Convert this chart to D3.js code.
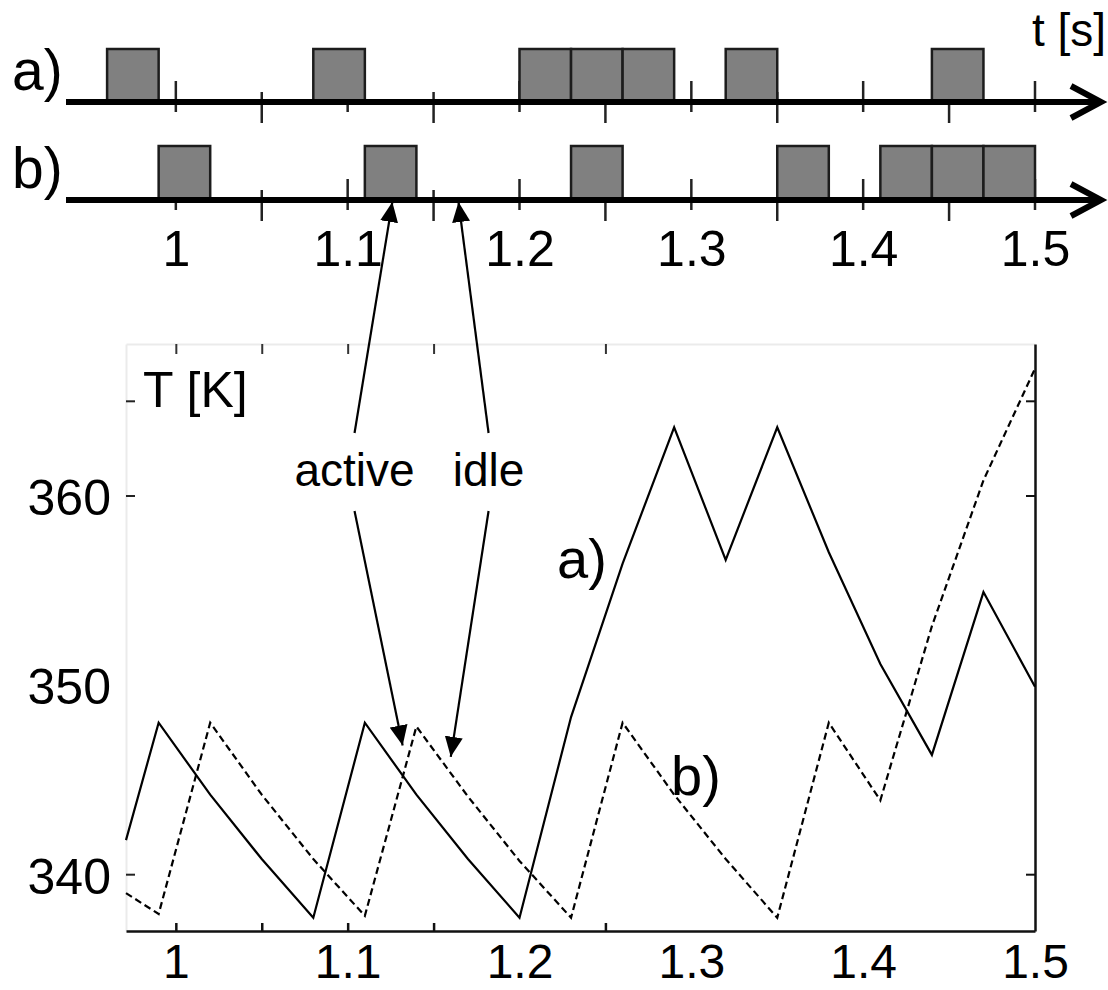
<!DOCTYPE html>
<html>
<head>
<meta charset="utf-8">
<script src="https://cdn.jsdelivr.net/npm/d3@7/dist/d3.min.js"></script>
<style>
  html, body { margin: 0; padding: 0; background: #fff; }
  svg { display: block; font-family: "Liberation Sans", Arial, Helvetica, sans-serif; }
</style>
</head>
<body>
<svg id="chart" width="1108" height="990"></svg>
<script>
// ---- data -------------------------------------------------------------
// start times [s] of the 30 ms active slots of each schedule
const slotLength = 0.03;
const activeA = [0.96, 1.08, 1.20, 1.23, 1.26, 1.32, 1.44];
const activeB = [0.99, 1.11, 1.23, 1.35, 1.41, 1.44, 1.47];

// temperature traces: time [s] and T [K]
const timeA = [0.971, 0.99, 1.02, 1.05, 1.08, 1.11, 1.14, 1.17, 1.20, 1.23, 1.26, 1.29, 1.32, 1.35, 1.38, 1.41, 1.44, 1.47, 1.50];
const tempA = [341.8, 348.0, 344.2, 340.8, 337.7, 348.0, 344.2, 340.8, 337.7, 348.3, 356.4, 363.6, 356.6, 363.6, 357.0, 351.1, 346.3, 354.9, 349.9];
const timeB = [0.971, 0.99, 1.02, 1.05, 1.08, 1.11, 1.14, 1.17, 1.20, 1.23, 1.26, 1.29, 1.32, 1.35, 1.38, 1.41, 1.44, 1.47, 1.50];
const tempB = [339.0, 337.9, 348.0, 344.2, 340.8, 337.8, 347.8, 344.1, 340.7, 337.7, 348.0, 344.2, 340.8, 337.7, 348.0, 343.9, 353.1, 360.8, 366.7];

// axis ticks and labels
const timeTicks = [1, 1.05, 1.1, 1.15, 1.2, 1.25, 1.3, 1.35, 1.4, 1.45, 1.5];
const timeLabels = [1, 1.1, 1.2, 1.3, 1.4, 1.5];
const plotTimeTicks = [1, 1.05, 1.1, 1.15, 1.25];
const tempTicks = [340, 360, 365];
const tempLabels = [340, 350, 360];

// annotation arrows: label anchor (t, T) and the target on the curve
const notes = [
  { text: "active", t: 1.104, T: 360.5, slotT: 1.126, curveT: 1.132, curveK: 346.8 },
  { text: "idle",   t: 1.182, T: 360.5, slotT: 1.1645, curveT: 1.160, curveK: 346.2 }
];

// ---- scales -----------------------------------------------------------
const x = d3.scaleLinear().domain([0.971, 1.5]).range([126, 1035]);
const y = d3.scaleLinear().domain([337, 368]).range([931, 344]);

const svg = d3.select("#chart");
const FONT = 50;

// ---- schedule timelines -----------------------------------------------
const rows = [
  { label: "a)", slots: activeA, axisY: 102, boxTop: 49 },
  { label: "b)", slots: activeB, axisY: 200, boxTop: 146 }
];

rows.forEach(r => {
  const g = svg.append("g");
  // tick marks: long part above the axis for whole tenths, below for halves
  g.selectAll("line.tk").data(timeTicks).join("line")
    .attr("x1", d => x(d)).attr("x2", d => x(d))
    .attr("y1", d => Math.round(d * 100) % 10 === 0 ? r.axisY - 21 : r.axisY - 10)
    .attr("y2", d => Math.round(d * 100) % 10 === 0 ? r.axisY + 10 : r.axisY + 21)
    .attr("stroke", "#222").attr("stroke-width", 2.5);
  // active slots
  g.selectAll("rect").data(r.slots).join("rect")
    .attr("x", d => x(d)).attr("width", d => x(d + slotLength) - x(d))
    .attr("y", r.boxTop).attr("height", r.axisY - r.boxTop)
    .attr("fill", "#808080").attr("stroke", "#1c1c1c").attr("stroke-width", 2.5);
  // time axis with arrow
  g.append("line").attr("x1", 66).attr("x2", 1099)
    .attr("y1", r.axisY).attr("y2", r.axisY)
    .attr("stroke", "#000").attr("stroke-width", 6);
  g.append("path")
    .attr("d", `M${1071},${r.axisY - 16} L${1101},${r.axisY} L${1071},${r.axisY + 16}`)
    .attr("fill", "none").attr("stroke", "#000").attr("stroke-width", 6)
    .attr("stroke-linejoin", "miter");
  g.append("text").attr("x", 12).attr("y", r.axisY - 12)
    .attr("font-size", 57).text(r.label);
});

svg.append("text").attr("x", 1106).attr("y", 46)
  .attr("text-anchor", "end").attr("font-size", 46).text("t [s]");

// time labels under the timelines
const topLabels = svg.append("g").attr("transform", `translate(0,${rows[1].axisY})`)
  .call(d3.axisBottom(x).tickValues(timeLabels).tickSize(0).tickPadding(30)
    .tickFormat(d3.format("")));
topLabels.select(".domain").remove();
topLabels.selectAll("text").attr("font-size", FONT).attr("fill", "#000")
  .attr("font-family", null);

// ---- temperature plot -------------------------------------------------
const frame = svg.append("g");

// faint top and left edges of the box
frame.append("g").attr("transform", `translate(0,${y(368)})`)
  .call(d3.axisTop(x).tickValues(plotTimeTicks).tickSizeInner(-10).tickSizeOuter(0).tickFormat(""))
  .call(g => g.select(".domain").attr("stroke", "#ebebeb").attr("stroke-width", 2))
  .call(g => g.selectAll(".tick line").attr("stroke", "#333").attr("stroke-width", 2));

frame.append("g").attr("transform", `translate(${x(0.971)},0)`)
  .call(d3.axisLeft(y).tickValues(tempTicks).tickSizeInner(-9).tickSizeOuter(0).tickFormat(""))
  .call(g => g.select(".domain").attr("stroke", "#ebebeb").attr("stroke-width", 2))
  .call(g => g.selectAll(".tick line").attr("stroke", "#222").attr("stroke-width", 2));

// temperature labels
const yLab = frame.append("g").attr("transform", `translate(${x(0.971)},0)`)
  .call(d3.axisLeft(y).tickValues(tempLabels).tickSize(0).tickPadding(15).tickFormat(d3.format("")));
yLab.select(".domain").remove();
yLab.selectAll("text").attr("font-size", FONT).attr("fill", "#000")
  .attr("font-family", null).attr("dy", "0.38em");

// solid right edge and bottom time axis
frame.append("g").attr("transform", `translate(${x(1.5)},0)`)
  .call(d3.axisRight(y).tickValues(tempTicks).tickSizeInner(-9).tickSizeOuter(0).tickFormat(""))
  .call(g => g.select(".domain").attr("stroke", "#111").attr("stroke-width", 2.5))
  .call(g => g.selectAll(".tick line").attr("stroke", "#111").attr("stroke-width", 2));

frame.append("g").attr("transform", `translate(0,${y(337)})`)
  .call(d3.axisBottom(x).tickValues(plotTimeTicks).tickSizeInner(-8).tickSizeOuter(0).tickFormat(""))
  .call(g => g.select(".domain").attr("stroke", "#111").attr("stroke-width", 2.5))
  .call(g => g.selectAll(".tick line").attr("stroke", "#111").attr("stroke-width", 2.5));

const xLab = frame.append("g").attr("transform", `translate(0,${y(337)})`)
  .call(d3.axisBottom(x).tickValues(timeLabels).tickSize(0).tickPadding(13).tickFormat(d3.format("")));
xLab.select(".domain").remove();
xLab.selectAll("text").attr("font-size", 48).attr("fill", "#000").attr("font-family", null);

svg.append("text").attr("x", 143).attr("y", 407).attr("font-size", FONT).text("T [K]");

// temperature curves
const line = d3.line().x(d => x(d[0])).y(d => y(d[1]));
svg.append("path").datum(d3.zip(timeA, tempA))
  .attr("d", line).attr("fill", "none").attr("stroke", "#000").attr("stroke-width", 2.2);
svg.append("path").datum(d3.zip(timeB, tempB))
  .attr("d", line).attr("fill", "none").attr("stroke", "#000").attr("stroke-width", 2.2)
  .attr("stroke-dasharray", "7,4");

svg.append("text").attr("x", 557).attr("y", 578).attr("font-size", 56).text("a)");
svg.append("text").attr("x", 671).attr("y", 795).attr("font-size", 56).text("b)");

// ---- annotation arrows -------------------------------------------------
const defs = svg.append("defs");
defs.append("marker").attr("id", "head")
  .attr("viewBox", "0 0 20 18").attr("refX", 20).attr("refY", 9)
  .attr("markerUnits", "userSpaceOnUse").attr("markerWidth", 20).attr("markerHeight", 18)
  .attr("orient", "auto")
  .append("path").attr("d", "M0,0 L20,9 L0,18 Z").attr("fill", "#000");

notes.forEach(n => {
  const lx = x(n.t), ly = y(n.T);
  svg.append("text").attr("x", lx).attr("y", ly).attr("text-anchor", "middle")
    .attr("font-size", 46).text(n.text);
  // up to the slot on timeline b)
  svg.append("line").attr("x1", lx).attr("y1", ly - 53)
    .attr("x2", x(n.slotT)).attr("y2", rows[1].axisY + 2)
    .attr("stroke", "#000").attr("stroke-width", 2.2).attr("marker-end", "url(#head)");
  // down to the temperature curve
  svg.append("line").attr("x1", lx).attr("y1", ly + 25)
    .attr("x2", x(n.curveT)).attr("y2", y(n.curveK))
    .attr("stroke", "#000").attr("stroke-width", 2.2).attr("marker-end", "url(#head)");
});
</script>
</body>
</html>
